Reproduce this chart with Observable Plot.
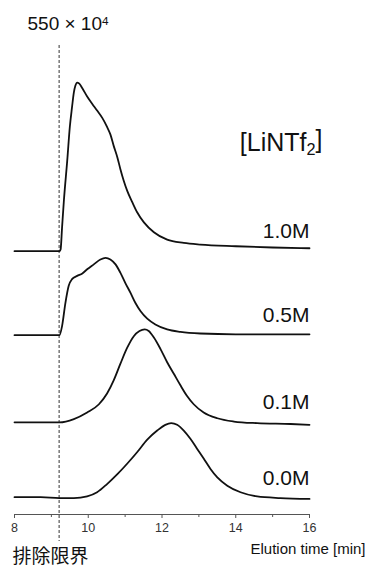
<!DOCTYPE html>
<html>
<head>
<meta charset="utf-8">
<script src="https://cdn.jsdelivr.net/npm/d3@7"></script>
<script src="https://cdn.jsdelivr.net/npm/@observablehq/plot@0.6"></script>
<style>
  html, body { margin: 0; padding: 0; background: #fff; }
  #chart { width: 368px; height: 567px; }
</style>
</head>
<body>
<div id="chart"></div>
<script>
// ---- data ----
const concentrations = ["0.0M", "0.1M", "0.5M", "1.0M"];
const offsets = [0, 92, 198, 300];          // vertical stacking of traces (×10^4)
const exclusionLimit = 9.21;               // min
const majorTicks = [8, 10, 12, 14, 16];
const minorTicks = [9, 11, 13, 15];
const yDomain = [-20, 550];

const t00 = [8.0, 8.71, 9.22, 9.61, 9.97, 10.24, 10.51, 10.79, 11.06, 11.33, 11.60, 11.87, 12.09, 12.25, 12.41, 12.59, 12.77, 12.95, 13.13, 13.32, 13.50, 13.77, 14.13, 14.58, 15.21, 16.0];
const i00 = [1, 1, 0, 0, 2, 7, 17, 29, 42, 56, 71, 82, 89, 91, 89, 82, 72, 60, 48, 35, 25, 15, 7, 2, 0, -1];

const t01 = [8.0, 8.71, 9.22, 9.61, 9.97, 10.29, 10.51, 10.69, 10.87, 11.06, 11.24, 11.39, 11.53, 11.64, 11.78, 11.96, 12.14, 12.32, 12.50, 12.68, 12.86, 13.13, 13.50, 13.95, 14.58, 15.49, 16.0];
const i01 = [0, 0, 0, 4, 12, 22, 35, 51, 71, 91, 105, 111, 113, 111, 103, 89, 73, 59, 45, 32, 22, 12, 5, 1, -1, -2, -3];

const t05 = [8.0, 9.22, 9.29, 9.38, 9.47, 9.56, 9.70, 9.84, 9.97, 10.15, 10.33, 10.47, 10.60, 10.74, 10.87, 11.01, 11.15, 11.28, 11.42, 11.60, 11.82, 12.14, 12.50, 13.04, 14.0, 16.0];
const i05 = [0, 0, 11, 39, 60, 68, 72, 75, 80, 86, 92, 94, 92, 86, 76, 63, 51, 39, 29, 20, 13, 7, 4, 2, 1, 1];

const t10 = [8.0, 9.22, 9.25, 9.29, 9.34, 9.43, 9.50, 9.56, 9.61, 9.65, 9.70, 9.75, 9.84, 9.97, 10.11, 10.24, 10.38, 10.51, 10.60, 10.69, 10.79, 10.87, 10.96, 11.06, 11.19, 11.33, 11.51, 11.78, 12.14, 12.59, 13.04, 14.0, 15.0, 16.0];
const i10 = [0, 0, 2, 29, 62, 110, 151, 175, 193, 201, 205, 204, 198, 188, 179, 171, 162, 151, 142, 128, 114, 100, 86, 73, 60, 47, 35, 23, 14, 10, 8, 6, 4.5, 3.6];

const scaleLabel = "550 × 104";
const legendTitle = "[LiNTf2]";
const xTitle = "Elution time [min]";
const limitLabel = "排除限界";

// ---- build table ----
const series = [[t00, i00], [t01, i01], [t05, i05], [t10, i10]];
const rows = [];
series.forEach(([ts, is], k) => {
  ts.forEach((t, j) => rows.push({t, v: is[j] + offsets[k], conc: concentrations[k]}));
});
const labelRows = concentrations.map((c, k) => ({conc: c, x: majorTicks[majorTicks.length - 1], y: offsets[k]}));

const latin = "'Liberation Sans', Arial, Helvetica, sans-serif";
const cjk = "'Noto Sans CJK JP', 'Noto Sans CJK SC', sans-serif";

const chart = Plot.plot({
  width: 368,
  height: 567,
  marginLeft: 14,
  marginRight: 59,
  marginTop: 45,
  marginBottom: 53,
  style: {fontFamily: latin, background: "#fff", color: "#111"},
  x: {domain: [majorTicks[0], majorTicks[majorTicks.length - 1]]},
  y: {domain: yDomain, axis: null},
  marks: [
    Plot.ruleY([{y: yDomain[0], x1: majorTicks[0], x2: majorTicks[majorTicks.length - 1]}],
      {y: "y", x1: "x1", x2: "x2", stroke: "#555", strokeWidth: 1}),
    Plot.axisX({ticks: majorTicks, tickSize: 4, tickPadding: 5, fontSize: 12.5, label: null, color: "#333", stroke: "#555"}),
    Plot.axisX({ticks: minorTicks, tickSize: 3, tickFormat: () => "", label: null, stroke: "#555"}),
    Plot.ruleX([exclusionLimit], {y1: yDomain[1], y2: yDomain[0], insetBottom: -27, stroke: "#333", strokeWidth: 1, strokeDasharray: "3,2"}),
    Plot.line(rows, {x: "t", y: "v", z: "conc", curve: "monotone-x", stroke: "#111", strokeWidth: 1.8}),
    Plot.text(labelRows, {x: "x", y: "y", text: "conc", textAnchor: "end", lineAnchor: "bottom", dy: -13, fontSize: 21, fill: "#111"}),
    Plot.text([legendTitle], {frameAnchor: "top-right", textAnchor: "end", lineAnchor: "bottom", dx: 13, dy: 105, fontSize: 25, fill: "#111"}),
    Plot.text([scaleLabel], {frameAnchor: "top-left", textAnchor: "start", lineAnchor: "bottom", dx: 13, dy: -15.7, fontSize: 19, fill: "#111"}),
    Plot.text([xTitle], {frameAnchor: "bottom-right", textAnchor: "end", lineAnchor: "bottom", dx: 56, dy: 39, fontSize: 15, fill: "#111"}),
    Plot.text([limitLabel], {frameAnchor: "bottom-left", textAnchor: "start", lineAnchor: "bottom", dx: -2, dy: 48, fontSize: 19, fill: "#111", fontFamily: cjk})
  ]
});

// superscript / subscript formatting
d3.select(chart).selectAll("text").each(function () {
  const el = d3.select(this);
  const s = this.textContent;
  if (s === scaleLabel) {
    el.text(null);
    el.append("tspan").text("550 × 10");
    el.append("tspan").attr("dy", "-0.45em").attr("font-size", "0.62em").text("4");
  } else if (s === legendTitle) {
    el.text(null);
    el.append("tspan").text("[LiNTf");
    el.append("tspan").attr("dy", "0.3em").attr("font-size", "0.65em").text("2");
    el.append("tspan").attr("dy", "-0.3em").text("]");
  }
});

document.getElementById("chart").appendChild(chart);
</script>
</body>
</html>
